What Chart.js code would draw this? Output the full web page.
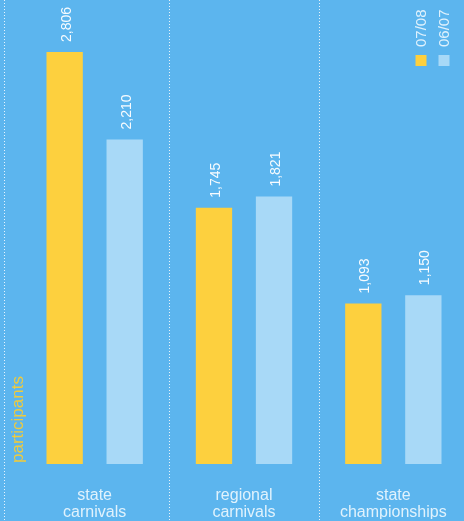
<!DOCTYPE html>
<html>
<head>
<meta charset="utf-8">
<script src="https://cdn.jsdelivr.net/npm/chart.js@4/dist/chart.umd.min.js"></script>
<style>
  html, body { margin: 0; padding: 0; background: #5cb5ee; overflow: hidden; }
  #wrap { width: 464px; height: 521px; position: relative; overflow: hidden; }
  canvas { display: block; }
</style>
</head>
<body>
<div id="wrap"><canvas id="c" width="468" height="521"></canvas></div>
<script>
const categories = [["state", "carnivals"], ["regional", "carnivals"], ["state", "championships"]];
const seriesNames = ["07/08", "06/07"];
const values0708 = [2806, 1745, 1093];
const values0607 = [2210, 1821, 1150];
const axisTitle = "participants";

const YELLOW = "#fdd03e";
const LIGHT = "#a8d9f7";
const BG = "#5cb5ee";
const FONT = "'Liberation Sans', Arial, sans-serif";

const fmt = v => v.toLocaleString("en-US");

const decor = {
  id: "decor",
  beforeDraw(chart) {
    const ctx = chart.ctx;
    ctx.save();
    ctx.fillStyle = BG;
    ctx.fillRect(0, 0, chart.width, chart.height);
    const xs = chart.scales.x;
    const area = chart.chartArea;
    const lines = [area.left - 16];
    for (let i = 0; i < categories.length - 1; i++) {
      lines.push((xs.getPixelForValue(i) + xs.getPixelForValue(i + 1)) / 2);
    }
    ctx.strokeStyle = "rgba(255,255,255,0.85)";
    ctx.lineWidth = 1;
    ctx.setLineDash([1, 2]);
    lines.forEach(x => {
      const px = Math.round(x) + 0.5;
      ctx.beginPath();
      ctx.moveTo(px, 0);
      ctx.lineTo(px, chart.height);
      ctx.stroke();
    });
    ctx.restore();
  },
  afterDatasetsDraw(chart) {
    const ctx = chart.ctx;
    const area = chart.chartArea;
    const W = chart.width;
    ctx.save();
    ctx.font = "14px " + FONT;
    ctx.fillStyle = "rgba(255,255,255,0.95)";
    ctx.textAlign = "left";
    ctx.textBaseline = "middle";
    chart.data.datasets.forEach((ds, di) => {
      const meta = chart.getDatasetMeta(di);
      meta.data.forEach((bar, i) => {
        ctx.save();
        ctx.translate(bar.x + 2, bar.y - 10);
        ctx.rotate(-Math.PI / 2);
        ctx.fillText(fmt(ds.data[i]), 0, 0);
        ctx.restore();
      });
    });
    const offsets = [47, 24];
    ctx.font = "15px " + FONT;
    chart.data.datasets.forEach((ds, di) => {
      const cx = W - offsets[di];
      ctx.fillStyle = ds.backgroundColor;
      ctx.fillRect(cx - 5.5, 55, 11, 11);
      ctx.save();
      ctx.translate(cx + 1, 47);
      ctx.rotate(-Math.PI / 2);
      ctx.fillStyle = "rgba(230,244,253,0.95)";
      ctx.fillText(ds.label, 0, 0);
      ctx.restore();
    });
    ctx.save();
    ctx.font = "17px " + FONT;
    ctx.fillStyle = "#f0cb3c";
    ctx.translate(area.left - 2, area.bottom - 1);
    ctx.rotate(-Math.PI / 2);
    ctx.fillText(axisTitle, 0, 0);
    ctx.restore();
    ctx.restore();
  }
};

new Chart(document.getElementById("c"), {
  type: "bar",
  data: {
    labels: categories,
    datasets: [
      { label: seriesNames[0], data: values0708, backgroundColor: YELLOW },
      { label: seriesNames[1], data: values0607, backgroundColor: LIGHT }
    ]
  },
  options: {
    responsive: false,
    animation: false,
    devicePixelRatio: 1,
    layout: { padding: { left: 20, right: 0, top: 0, bottom: 2 } },
    categoryPercentage: 0.804,
    barPercentage: 0.605,
    plugins: { legend: { display: false }, tooltip: { enabled: false } },
    scales: {
      x: {
        grid: { display: false, drawTicks: false, tickLength: 0 },
        border: { display: false },
        ticks: {
          color: "rgba(236,247,254,0.92)",
          font: { family: FONT, size: 16, lineHeight: 1.05 },
          padding: 23,
          maxRotation: 0,
          autoSkip: false
        },
        afterFit(scale) {
          scale.height = 55;
          scale.paddingLeft = 0;
          scale.paddingRight = 0;
        }
      },
      y: {
        display: false,
        min: 0,
        max: 3160
      }
    }
  },
  plugins: [decor]
});
</script>
</body>
</html>
